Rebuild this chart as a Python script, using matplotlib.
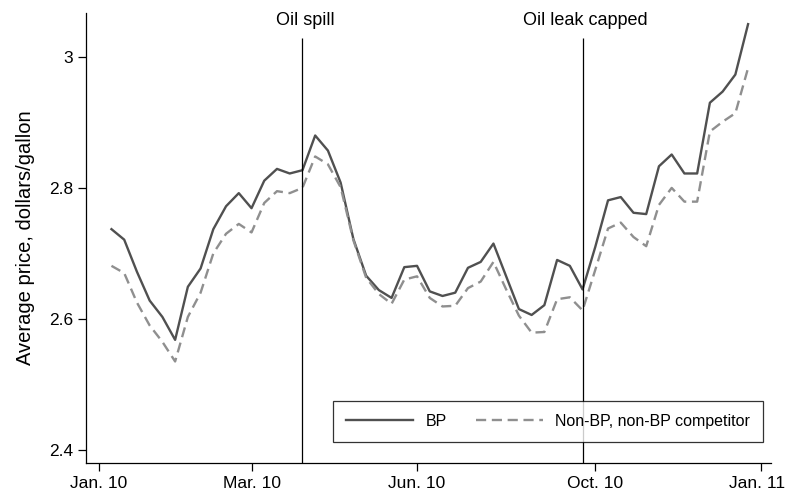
import numpy as np
import matplotlib.pyplot as plt
import matplotlib.transforms as mtransforms

plt.rcParams['font.family'] = ['Liberation Sans', 'DejaVu Sans']

# weekly average prices, dollars/gallon (week index 0..50)
bp = [2.737, 2.721, 2.672, 2.628, 2.603, 2.568, 2.649, 2.677, 2.737, 2.772,
      2.792, 2.769, 2.811, 2.829, 2.822, 2.827, 2.880, 2.857, 2.808, 2.722,
      2.666, 2.644, 2.632, 2.679, 2.681, 2.642, 2.635, 2.640, 2.678, 2.687,
      2.715, 2.665, 2.615, 2.606, 2.621, 2.690, 2.681, 2.645, 2.710, 2.781,
      2.786, 2.762, 2.760, 2.833, 2.851, 2.822, 2.822, 2.930, 2.947, 2.973,
      3.050]
non_bp = [2.681, 2.670, 2.625, 2.590, 2.565, 2.535, 2.603, 2.640, 2.700, 2.730,
          2.745, 2.732, 2.777, 2.795, 2.792, 2.800, 2.848, 2.836, 2.801, 2.720,
          2.663, 2.638, 2.623, 2.660, 2.665, 2.632, 2.619, 2.620, 2.647, 2.657,
          2.687, 2.645, 2.605, 2.579, 2.580, 2.630, 2.633, 2.613, 2.675, 2.738,
          2.747, 2.725, 2.711, 2.774, 2.800, 2.779, 2.779, 2.886, 2.901, 2.914,
          2.983]
weeks = np.arange(len(bp))

tick_pos = [-1, 11, 24, 38, 51]
tick_labels = ['Jan. 10', 'Mar. 10', 'Jun. 10', 'Oct. 10', 'Jan. 11']
events = [15, 37]
event_labels = ['Oil spill', 'Oil leak capped']

fig = plt.figure(figsize=(7.85, 4.95), dpi=100)
ax = fig.add_axes([86/785, 1-463/495, (771-86)/785, (463-13)/495])

ax.plot(weeks, bp, color='#505050', lw=1.7, label='BP')
ax.plot(weeks, non_bp, color='#8f8f8f', lw=1.7, linestyle=(0, (4.3, 2.4)),
        label='Non-BP, non-BP competitor')

ax.set_xlim(-2, 51.8)
ax.set_ylim(2.38, 3.067)

for x, lab in zip(events, event_labels):
    ax.vlines(x, 2.38, 3.029, color='black', lw=0.9)
    ax.text(x + 0.2, 3.043, lab, ha='center', va='bottom', fontsize=13)

ax.set_xticks(tick_pos)
ax.set_xticklabels(tick_labels)
ax.set_yticks([2.4, 2.6, 2.8, 3.0])
ax.set_yticklabels(['2.4', '2.6', '2.8', '3'])
ax.tick_params(labelsize=12.5, length=6, width=0.9, colors='black')
ax.set_ylabel('Average price, dollars/gallon', fontsize=14.5, labelpad=10)

# keep the last date label inside the figure
last = ax.get_xticklabels()[-1]
last.set_transform(last.get_transform() +
                   mtransforms.ScaledTranslation(-4/100, 0, fig.dpi_scale_trans))

for s in ['top', 'right']:
    ax.spines[s].set_visible(False)
for s in ['left', 'bottom']:
    ax.spines[s].set_linewidth(0.9)

leg = ax.legend(loc='lower right', ncol=2, fontsize=11.5, frameon=True,
                fancybox=False, edgecolor='black', handlelength=4.2,
                columnspacing=1.8, borderpad=0.8, bbox_to_anchor=(1.0, 0.03))
leg.get_frame().set_linewidth(0.9)

fig.savefig('out.png', dpi=100)
